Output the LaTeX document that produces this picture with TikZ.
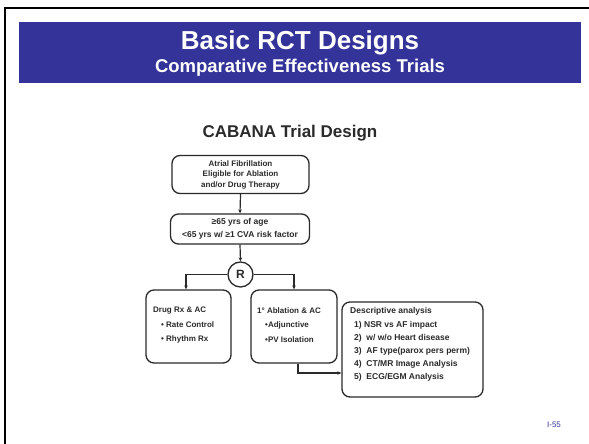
\documentclass[tikz,border=0pt]{standalone}
\usepackage{fontspec}
\setmainfont{Liberation Sans}
\usetikzlibrary{arrows.meta,positioning}
\definecolor{banner}{HTML}{333399}
\definecolor{ink}{HTML}{2A2A2A}
\tikzset{
  boxstyle/.style={draw=ink, line width=1.3pt, rounded corners=8pt, inner sep=0pt},
  conn/.style={draw=ink, line width=1.2pt, -{Stealth[length=4pt,width=3.5pt]}},
  boxtext/.style={font=\bfseries\fontsize{8}{10.5}\selectfont, text=ink, align=center},
}
\begin{document}
\begin{tikzpicture}[x=1pt,y=-1pt]
\useasboundingbox (0,0) rectangle (589,444);
\fill[white] (0,0) rectangle (589,444);
% frame
\draw[black, line width=2.5pt] (5,444) -- (5,8) -- (589,8);
% banner
\fill[banner] (19,22) rectangle (581,83);
\node[font=\bfseries\fontsize{26}{29}\selectfont, text=white] (title) at (300,43) {Basic RCT Designs};
\node[font=\bfseries\fontsize{18.5}{21}\selectfont, text=white] (subtitle) at (300,67.5) {Comparative Effectiveness Trials};
% heading
\node[font=\bfseries\fontsize{17}{20}\selectfont, text=ink] (heading) at (290,133) {CABANA Trial Design};
% boxes
\node[boxstyle, minimum width=137pt, minimum height=38pt] (b1) at (240.5,174.5) {};
\node[boxtext] (t1) at (b1.center) {Atrial Fibrillation\\Eligible for Ablation\\and/or Drug Therapy};
\node[boxstyle, minimum width=139pt, minimum height=30pt] (b2) at (240,229) {};
\node[boxtext, font=\bfseries\fontsize{8.5}{13}\selectfont] (t2) at (b2.center) {≥65 yrs of age\\<65 yrs w/ ≥1 CVA risk factor};
\node[draw=ink, line width=1.3pt, circle, minimum size=25pt, inner sep=0pt, font=\bfseries\fontsize{12}{14}\selectfont, text=ink] (R) at (240.5,274.5) {R};
\node[boxstyle, minimum width=85pt, minimum height=73pt] (drug) at (188.5,326.5) {};
\node[boxstyle, minimum width=86pt, minimum height=73pt] (abl) at (294,326.5) {};
\node[boxstyle, minimum width=141pt, minimum height=95pt] (desc) at (412.5,349.5) {};
\node[font=\bfseries\fontsize{8}{14.5}\selectfont, text=ink, align=left, anchor=north west, inner sep=0pt] (tdrug) at (153,307) {Drug Rx \& AC\\\hspace{8pt}• Rate Control\\\hspace{8pt}• Rhythm Rx};
\node[font=\bfseries\fontsize{8}{14.5}\selectfont, text=ink, align=left, anchor=north west, inner sep=0pt] (tabl) at (257,307) {1° Ablation \& AC\\\hspace{8pt}•Adjunctive\\\hspace{8pt}•PV Isolation};
\node[font=\bfseries\fontsize{8.5}{13.2}\selectfont, text=ink, align=left, anchor=north west, inner sep=0pt] (tdesc) at (350,307.5) {Descriptive analysis\\\hspace{4pt}1) NSR vs AF impact\\\hspace{4pt}2)\ \ w/ w/o Heart disease\\\hspace{4pt}3)\ \ AF type(parox pers perm)\\\hspace{4pt}4)\ \ CT/MR Image Analysis\\\hspace{4pt}5)\ \ ECG/EGM Analysis};
% connectors
\coordinate (lk) at (186,274.5);
\coordinate (rk) at (294,274.5);
\coordinate (ak) at (298,373);
\draw[conn] (b1.south) -- (b2.north);
\draw[conn] (b2.south) -- (R.north);
\draw[conn] (R.west) -- (lk) -- (lk |- drug.north);
\draw[conn] (R.east) -- (rk) -- (rk |- abl.north);
\draw[conn] (ak |- abl.south) -- (ak) -- (ak -| desc.west);
% page number
\node[font=\fontsize{8}{10}\selectfont, text=banner] (pg) at (554,425) {I-55};
\end{tikzpicture}
\end{document}
